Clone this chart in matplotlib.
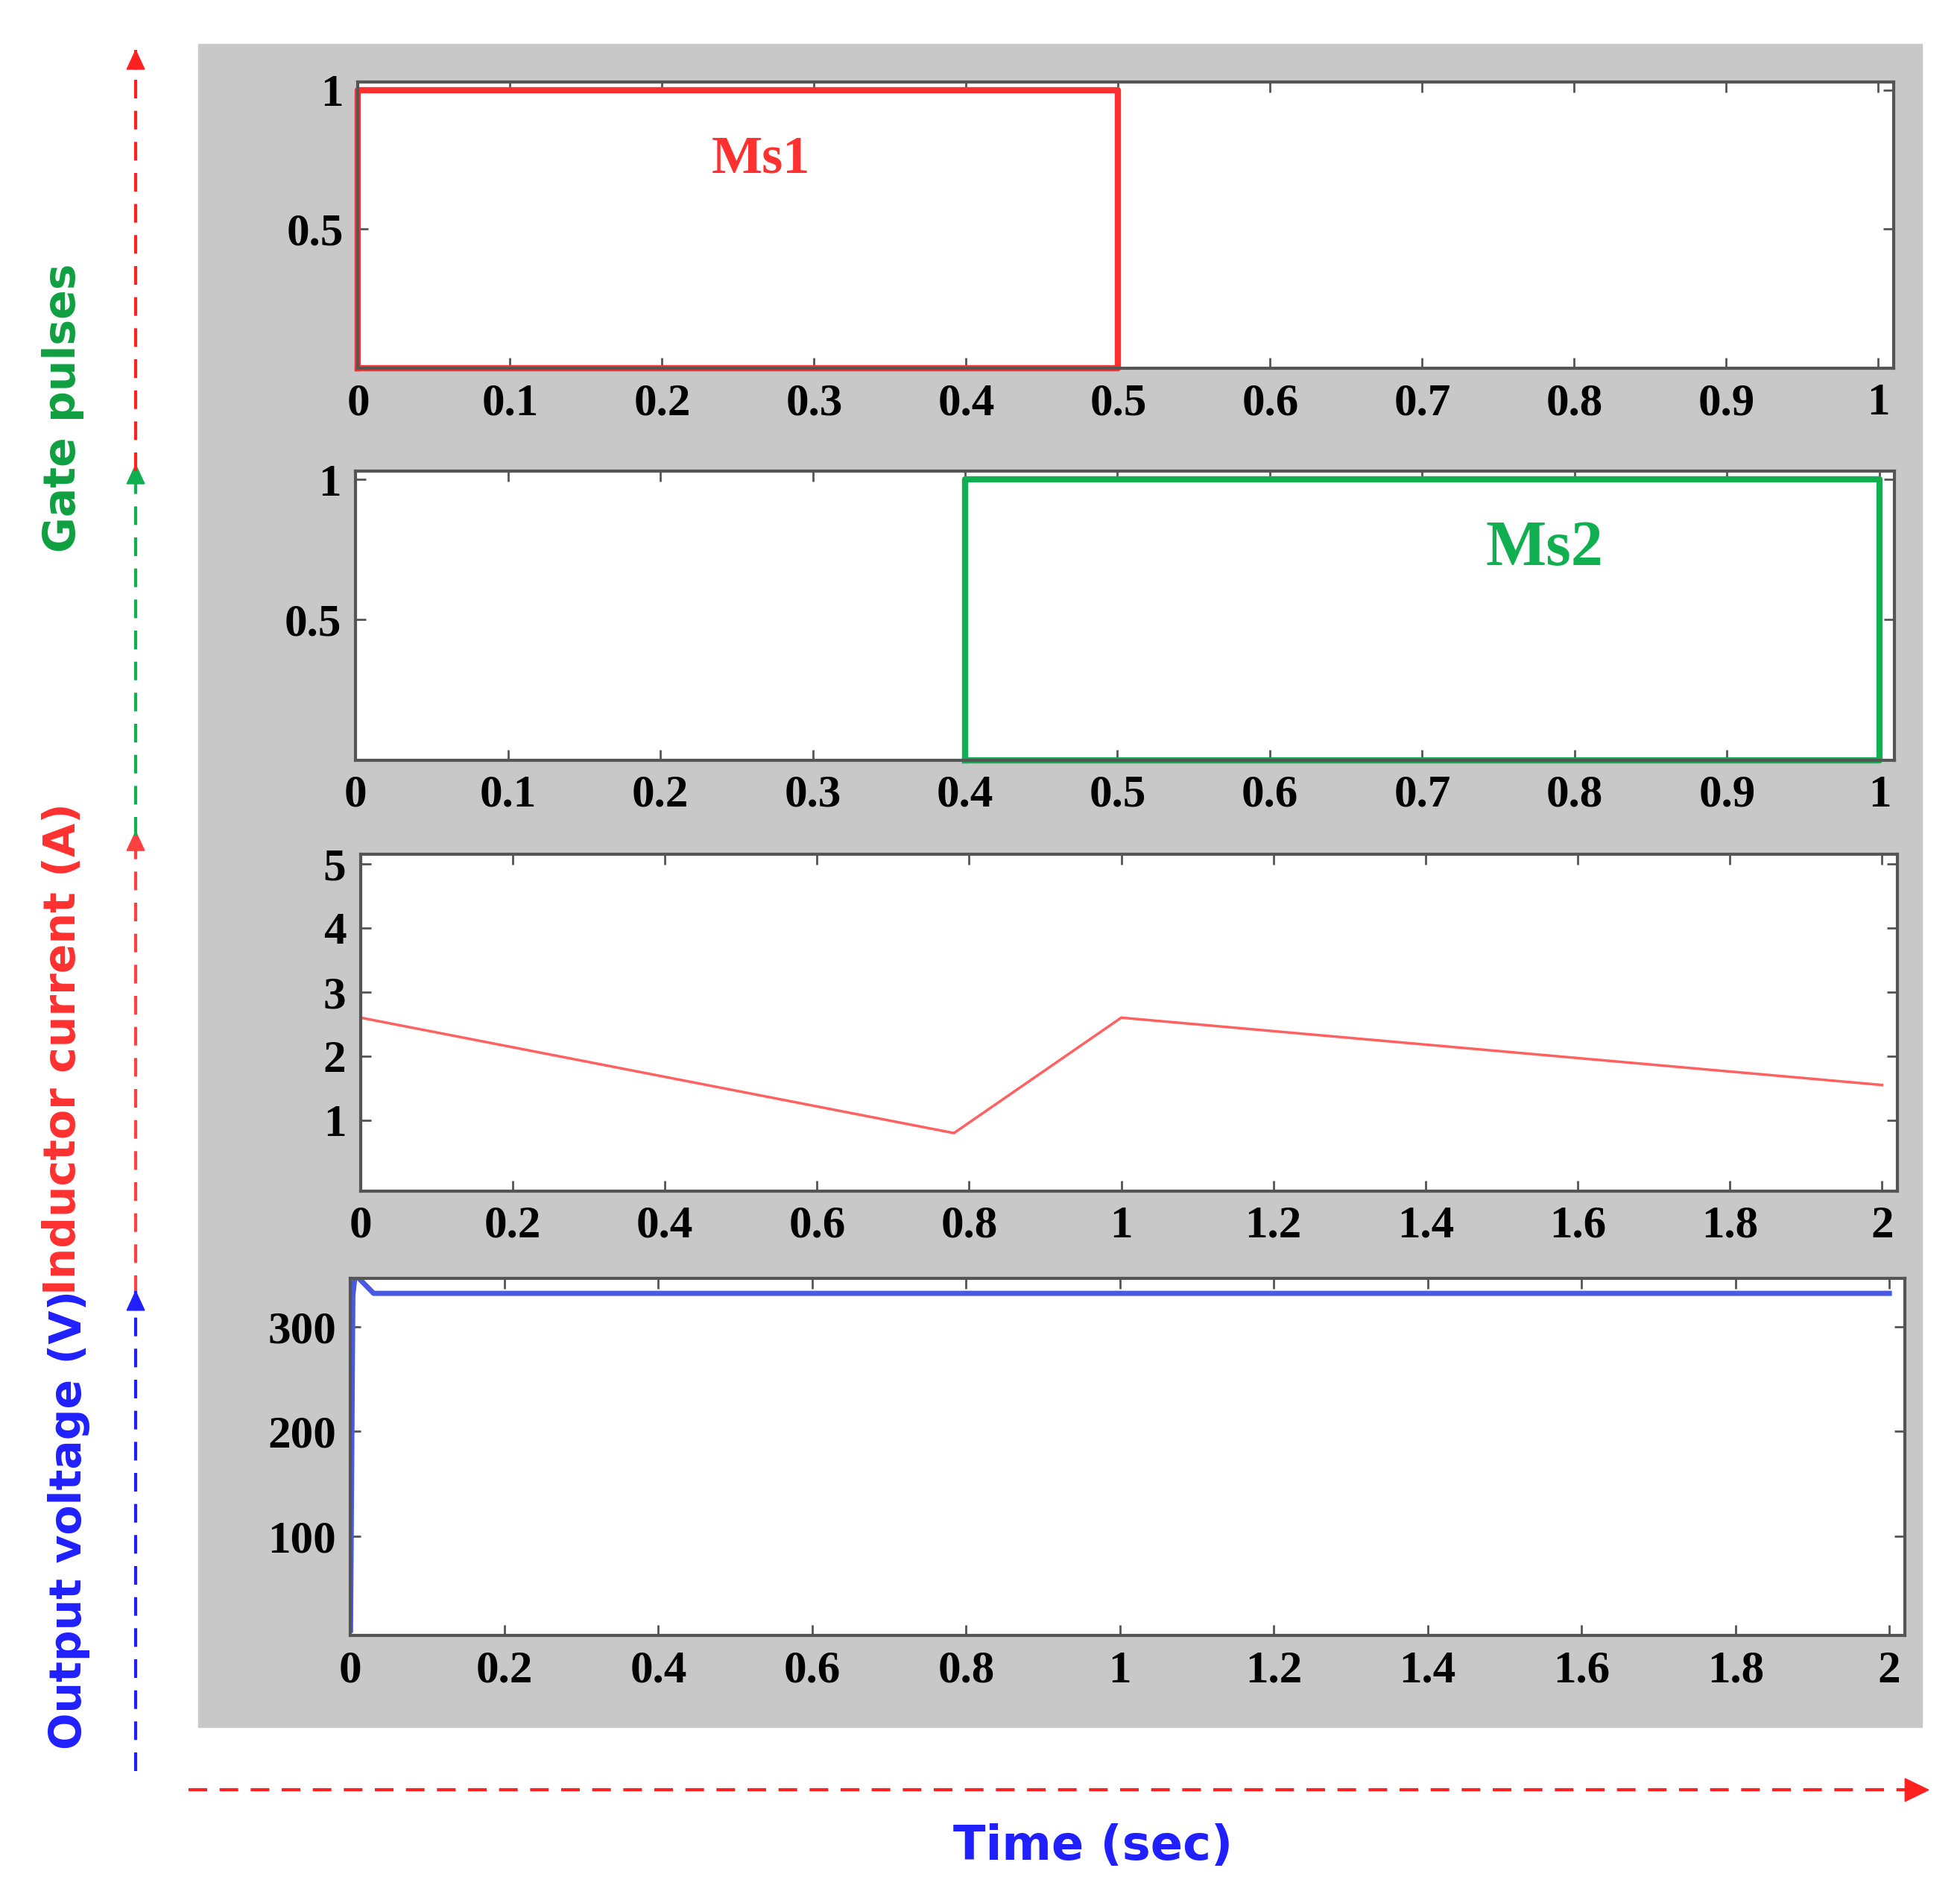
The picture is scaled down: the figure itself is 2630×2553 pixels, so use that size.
import matplotlib
matplotlib.use("Agg")
import matplotlib.pyplot as plt
from matplotlib.patches import Rectangle

t1 = [0, 0, 0.5, 0.5, 0, 0]
g1 = [0, 1, 1, 0, 0, 0]
t2 = [0.4, 0.4, 1.0, 1.0, 0.4]
g2 = [0, 1, 1, 0, 0]
t3 = [0, 0.78, 1.0, 2.0]
i3 = [2.6, 0.8, 2.6, 1.55]
t4 = [0, 0.003, 0.006, 0.03, 2.0]
v4 = [10, 330, 350, 332, 332]

W, H = 1560, 1515
fig = plt.figure(figsize=(26.3, 25.53), dpi=100)
def fx(x): return x / W
def fy(y): return 1 - y / H

fig.patches.append(Rectangle((fx(158), fy(1375)), fx(1530) - fx(158), fy(35) - fy(1375),
                             transform=fig.transFigure, color='#c8c8c8', zorder=-10))

def mkax(x0, y0, x1, y1):
    ax = fig.add_axes([fx(x0), fy(y1), fx(x1) - fx(x0), fy(y0) - fy(y1)])
    ax.set_zorder(5)
    for s in ax.spines.values():
        s.set_color('#555555'); s.set_linewidth(3)
    ax.tick_params(direction='in', length=10, width=2, color='#555555', top=True, right=True, pad=14)
    return ax

def fonts(ax):
    for lab in ax.get_xticklabels() + ax.get_yticklabels():
        lab.set_fontfamily('Liberation Serif'); lab.set_fontweight('bold'); lab.set_fontsize(44)

xt1 = [i / 10 for i in range(11)]
xl1 = ['0'] + [f'{i/10:g}' for i in range(1, 10)] + ['1']
xt3 = [0, 0.2, 0.4, 0.6, 0.8, 1, 1.2, 1.4, 1.6, 1.8, 2]
xl3 = ['0', '0.2', '0.4', '0.6', '0.8', '1', '1.2', '1.4', '1.6', '1.8', '2']

ax1 = mkax(285, 65, 1507, 293)
ax1.plot(t1, g1, color='#ff3030', lw=6, clip_on=False)
ax1.set_xlim(0, 1.01); ax1.set_ylim(0, 1.03)
ax1.set_xticks(xt1); ax1.set_xticklabels(xl1)
ax1.set_yticks([0.5, 1]); ax1.set_yticklabels(['0.5', '1'])
ax1.text(0.265, 0.75, 'Ms1', color='#ff3030', ha='center', va='center', family='Liberation Serif', weight='bold', size=52)
fonts(ax1)

ax2 = mkax(283, 375, 1508, 605)
ax2.plot(t2, g2, color='#10b050', lw=6, clip_on=False)
ax2.set_xlim(0, 1.01); ax2.set_ylim(0, 1.03)
ax2.set_xticks(xt1); ax2.set_xticklabels(xl1)
ax2.set_yticks([0.5, 1]); ax2.set_yticklabels(['0.5', '1'])
ax2.text(0.78, 0.75, 'Ms2', color='#10b050', ha='center', va='center', family='Liberation Serif', weight='bold', size=62)
fonts(ax2)

ax3 = mkax(287, 680, 1510, 948)
ax3.plot(t3, i3, color='#ff6060', lw=2.5)
ax3.set_xlim(0, 2.02); ax3.set_ylim(-0.1, 5.15)
ax3.set_xticks(xt3); ax3.set_xticklabels(xl3)
ax3.set_yticks([1, 2, 3, 4, 5]); ax3.set_yticklabels(['1', '2', '3', '4', '5'])
fonts(ax3)

ax4 = mkax(279, 1018, 1516, 1302)
ax4.plot(t4, v4, color='#4a5ae0', lw=5)
ax4.set_xlim(0, 2.02); ax4.set_ylim(5, 346)
ax4.set_xticks(xt3); ax4.set_xticklabels(xl3)
ax4.set_yticks([100, 200, 300]); ax4.set_yticklabels(['100', '200', '300'])
fonts(ax4)

def varrow(y0, y1, color):
    fig.add_artist(plt.Line2D([fx(108), fx(108)], [fy(y0), fy(y1)], transform=fig.transFigure,
                              color=color, lw=3, ls=(0, (6, 4))))
    fig.add_artist(matplotlib.patches.FancyArrow(fx(108), fy(y1 + 14), 0, fy(y1) - fy(y1 + 14), width=0,
                   head_width=0.009, head_length=0.01, length_includes_head=True,
                   transform=fig.transFigure, color=color))
varrow(375, 40, '#ff2020')
varrow(665, 370, '#10b050')
varrow(1030, 662, '#ff4040')
varrow(1410, 1028, '#2020ff')
fig.add_artist(plt.Line2D([fx(150), fx(1525)], [fy(1425), fy(1425)], transform=fig.transFigure,
                          color='#ff2020', lw=3, ls=(0, (6, 4))))
fig.add_artist(matplotlib.patches.FancyArrow(fx(1510), fy(1425), fx(25), 0, width=0, head_width=0.012,
               head_length=0.012, length_includes_head=True, transform=fig.transFigure, color='#ff2020'))

lab = dict(family='DejaVu Sans', weight='bold', size=42, rotation=90, ha='center', va='center')
fig.text(fx(50), fy(325), 'Gate pulses', color='#10a040', **lab)
fig.text(fx(50), fy(835), 'Inductor current (A)', color='#ff3030', **lab)
fig.text(fx(55), fy(1210), 'Output voltage (V)', color='#2020ff', **lab)
fig.text(fx(870), fy(1470), 'Time (sec)', color='#2020ff', family='DejaVu Sans', weight='bold', size=46, ha='center', va='center')

fig.savefig('out.png', dpi=100, facecolor='white')
